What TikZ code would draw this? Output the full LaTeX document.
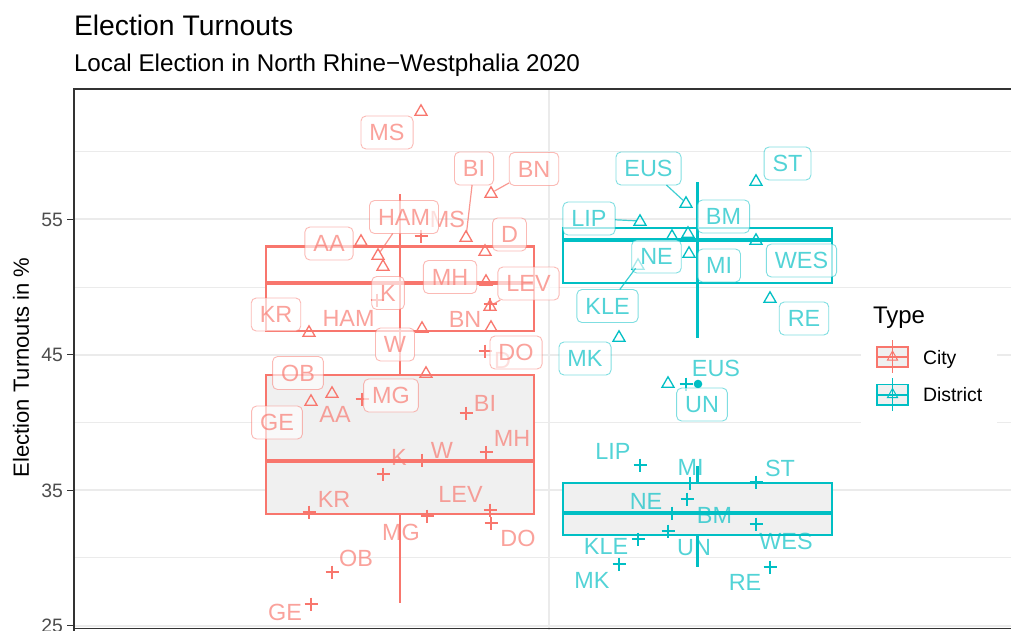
\documentclass[tikz,border=0pt]{standalone}
\usepackage{fontspec}
\setmainfont{Liberation Sans}
\definecolor{cityc}{HTML}{F8766D}
\definecolor{distc}{HTML}{00BFC4}
\definecolor{gridc}{HTML}{EBEBEB}
\definecolor{boxfill}{HTML}{F0F0F0}
\definecolor{bordc}{HTML}{333333}
\definecolor{tickc}{HTML}{4D4D4D}
\tikzset{
  every node/.style={inner sep=0pt, outer sep=0pt},
  lblfont/.style={font=\fontsize{23.4}{23.4}\selectfont},
  boxlbl/.style={lblfont, draw=#1, draw opacity=0.5, line width=0.9pt, fill=white, fill opacity=0.65,
    text=#1, text opacity=0.68, rounded corners=5pt, minimum height=33pt, inner xsep=8.5pt,
    inner ysep=0pt, text height=16.8pt, text depth=0pt},
  plainlbl/.style={lblfont, text=#1, text opacity=0.68, text height=16.8pt, text depth=0pt},
  segc/.style={draw=#1, draw opacity=0.75, line width=1.2pt, shorten >=4pt},
  gridmajor/.style={draw=gridc, line width=1.7pt},
  gridminor/.style={draw=gridc, line width=0.9pt},
  bxline/.style={draw=#1, line width=2.1pt},
  medline/.style={draw=#1, line width=4.2pt},
  mk/.style={line width=1.3pt},
  tri/.pic={\draw[mk] (-6,4.2) -- (6,4.2) -- (0,-6.2) -- cycle;},
  plusm/.pic={\draw[mk] (-6.5,0) -- (6.5,0) (0,-6.5) -- (0,6.5);},
  keytri/.pic={\draw[line width=1pt] (-5,4.5) -- (5,4.5) -- (0,-4.5) -- cycle;},
}
\begin{document}
\begin{tikzpicture}[x=1pt,y=-1pt]
\useasboundingbox (0,0) rectangle (1011,630);
\fill[white] (0,0) rectangle (1011,630);

% grid
\begin{scope}
\clip (74,89) rectangle (1011,630);
\foreach \y in {151.6,287.0,422.5,557.9} \draw[gridminor] (74,\y) -- (1011,\y);
\foreach \y in {219.3,354.75,490.2,625.65} \draw[gridmajor] (74,\y) -- (1011,\y);
\draw[gridmajor] (549,89) -- (549,630);
\end{scope}

% legend background
\fill[white] (861,291) rectangle (997,425);

% City boxplots
\draw[bxline=cityc, fill=white] (266,246.5) rectangle (534,331);
\draw[medline=cityc] (266,283) -- (534,283);
\draw[bxline=cityc] (400,194) -- (400,375);
\draw[bxline=cityc, fill=boxfill] (266,375) rectangle (534,514);
\draw[medline=cityc] (266,461) -- (534,461);
\draw[bxline=cityc] (400,514) -- (400,603);

% District boxplots
\draw[bxline=distc, fill=white] (563,227.7) rectangle (832,283.3);
\draw[medline=distc] (563,240.3) -- (832,240.3);
\draw[bxline=distc] (697.5,182) -- (697.5,338);
\draw[bxline=distc] (697.5,466) -- (697.5,483.3);
\draw[bxline=distc, fill=boxfill] (563,483.3) rectangle (832,535);
\draw[medline=distc] (563,513.3) -- (832,513.3);
\draw[bxline=distc] (697.5,535) -- (697.5,567);
\coordinate (outEUS) at (698,384);
\fill[distc] (outEUS) circle (4.3);

% City points
\foreach \n/\px/\py in {MS/421/111, BI/466/237, BN/491/193, HAM/378/255, AA/361/241, D/485/251,
  MH/486/281, LEV/490/306, K/383/266, KR/309/332, W/422/328, DO/491/327, OB/332/393, MG/426/373, GE/311/401}
  {\coordinate (ct\n) at (\px,\py); \pic[color=cityc] at (ct\n) {tri};}
\foreach \n/\px/\py in {MS/421/236, HAM/377/300, BN/490/304, D/485/351, AA/362/399, BI/466/413,
  MH/486/452, K/383/474, W/422/460, KR/309/512, LEV/490/510, MG/427/516, DO/491/523, OB/332/572, GE/311/604}
  {\coordinate (cp\n) at (\px,\py); \pic[color=cityc] at (cp\n) {plusm};}

% District points
\foreach \n/\px/\py in {EUS/686/203, ST/756/181, LIP/640/221, BM/688/233, NE/672/236, MI/689/253,
  WES/756/240, KLE/638/265, RE/770/298, MK/619/337, UN/668/383}
  {\coordinate (dt\n) at (\px,\py); \pic[color=distc] at (dt\n) {tri};}
\foreach \n/\px/\py in {LIP/640/465, MI/690/483, ST/756/482, NE/687/499, BM/672/513, WES/756/524,
  UN/668/531, KLE/638/539, MK/619/564, RE/770/567, EUS/686/384}
  {\coordinate (dp\n) at (\px,\py); \pic[color=distc] at (dp\n) {plusm};}

% City plain labels
\foreach \n/\x/\y in {MS/447.5/219, HAM/348.5/318, BN/465/319, D/502.5/360, AA/335/414, BI/485/403,
  MH/512/438, K/399/457, W/442/450, KR/334/499, LEV/460.5/494, MG/401/532, DO/518/538, OB/356/558, GE/285/612}
  \node[plainlbl=cityc] (lp\n) at (\x,\y) {\n};
% District plain labels
\foreach \n/\x/\y in {LIP/613/451, MI/690.5/467, ST/780/468, NE/646/501, BM/714.5/515, WES/786/541,
  UN/694/547, KLE/606/546, MK/592/580, RE/745/582, EUS/716/368}
  \node[plainlbl=distc] (mp\n) at (\x,\y) {\n};

% City boxed labels
\foreach \n/\x/\y in {MS/387/132.5, BI/474/168.5, BN/534/169, HAM/404/217, AA/329/243.5, D/509.5/234.5,
  MH/450/277, LEV/528.5/283.5, K/388/293, KR/276/314.5, W/395/344.5, DO/516/352.5, OB/298/373,
  MG/391/395.5, GE/277/422.5}
  \node[boxlbl=cityc] (lt\n) at (\x,\y) {\n};
\foreach \n in {BI,BN,HAM,LEV} \draw[segc=cityc] (lt\n) -- (ct\n);

% District boxed labels
\foreach \n/\x/\y in {EUS/648.5/168.5, ST/787.5/163.5, LIP/589/218.5, BM/723.5/216.5, NE/656.5/256.5,
  MI/719/265.5, WES/801.5/260.5, KLE/607.5/306, RE/804/318.5, MK/585/358.5, UN/702/404.5}
  \node[boxlbl=distc] (mt\n) at (\x,\y) {\n};
\foreach \n in {EUS,LIP,KLE} \draw[segc=distc] (mt\n) -- (dt\n);

% panel border
\draw[bordc, line width=1.3pt] (74,640) -- (74,89) -- (1020,89);
\draw[bordc, line width=1.3pt] (74,628.3) -- (1020,628.3);

% axis
\foreach \v/\y in {55/219.3,45/354.75,35/490.2,25/625.65}{
  \draw[bordc, line width=1.2pt] (67,\y) -- (74,\y);
  \node[anchor=east, text=tickc, font=\fontsize{19.4}{19.4}\selectfont, text height=13.9pt, text depth=0pt] (tick\v) at (63,\y) {\v};
}
\node[rotate=90, font=\fontsize{22}{22}\selectfont, text height=15.8pt, text depth=0pt] (ytitle) at (21,367.5) {Election Turnouts in \%};

% titles
\node[anchor=base west, font=\fontsize{28.3}{28.3}\selectfont] (title) at (74,35) {Election Turnouts};
\node[anchor=base west, font=\fontsize{24.2}{24.2}\selectfont] (subtitle) at (74,71.7) {Local Election in North Rhine−Westphalia 2020};

% legend
\node[anchor=base west, font=\fontsize{24}{24}\selectfont] (legtitle) at (873,323) {Type};
\draw[draw=cityc, line width=1.6pt, fill=boxfill] (877,347) rectangle (908,367);
\draw[draw=cityc, line width=2.6pt] (877,357) -- (908,357);
\draw[draw=cityc, line width=1.6pt] (892.5,340) -- (892.5,373);
\pic[color=cityc] at (892.5,355.5) {keytri};
\node[anchor=base west, font=\fontsize{19.4}{19.4}\selectfont] (legcity) at (923,364) {City};

\draw[draw=distc, line width=1.6pt, fill=boxfill] (877,384.5) rectangle (908,405);
\draw[draw=distc, line width=2.6pt] (877,395) -- (908,395);
\draw[draw=distc, line width=1.6pt] (892.5,378) -- (892.5,411);
\pic[color=distc] at (892.5,393) {keytri};
\node[anchor=base west, font=\fontsize{19.4}{19.4}\selectfont] (legdist) at (923,401.7) {District};
\end{tikzpicture}
\end{document}
